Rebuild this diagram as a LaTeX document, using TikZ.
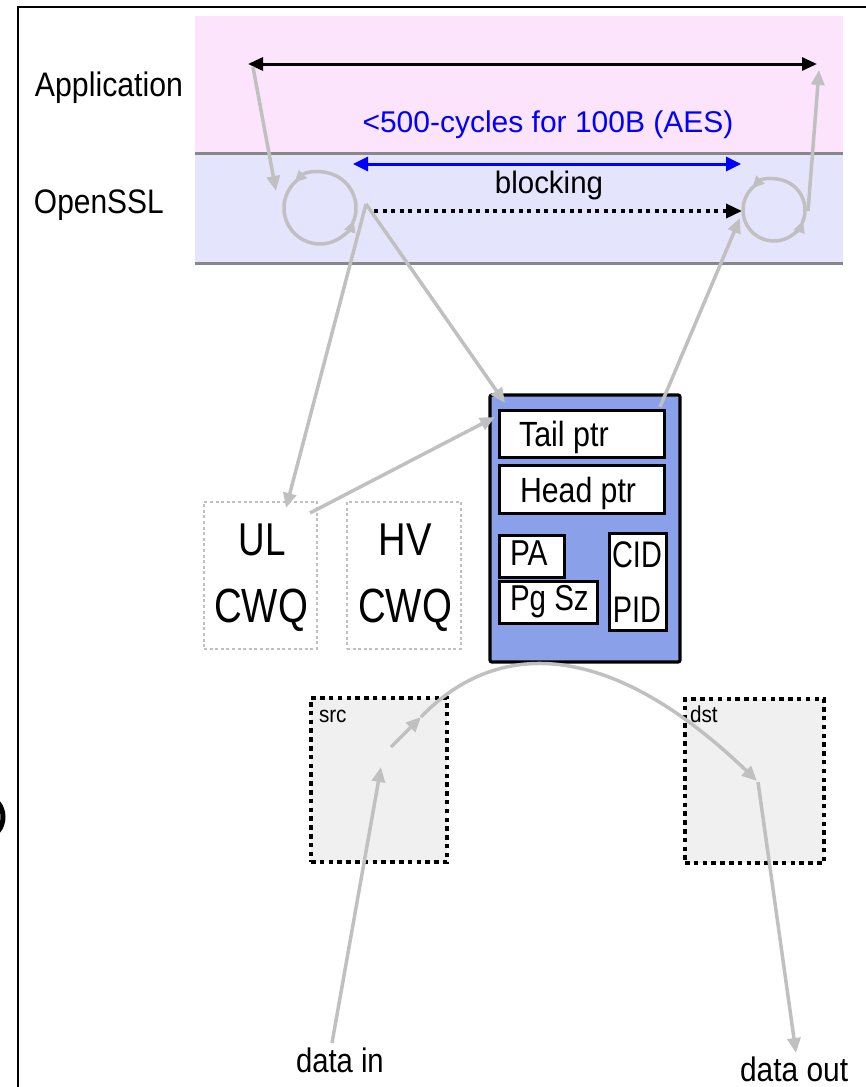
\documentclass[tikz,border=0pt]{standalone}
\usepackage{fontspec}
\setmainfont{Liberation Sans}
\usetikzlibrary{arrows.meta}

\definecolor{pinkband}{RGB}{252,228,252}
\definecolor{lavband}{RGB}{228,228,252}
\definecolor{bandline}{RGB}{136,136,136}
\definecolor{flow}{RGB}{192,192,192}
\definecolor{ringblue}{RGB}{138,160,232}
\definecolor{bufgray}{RGB}{240,240,240}
\newcommand\txtsz[1]{\fontsize{#1pt}{#1pt}\selectfont}

\begin{document}
\begin{tikzpicture}[x=1pt,y=-1pt,
  lbl/.style={inner sep=0pt, outer sep=0pt, anchor=base},
  lblw/.style={inner sep=0pt, outer sep=0pt, anchor=base west},
  flowarrow/.style={draw=flow, line width=3.5pt, line cap=butt,
    -{Triangle[length=15pt,width=13pt]}},
  loopline/.style={draw=flow, line width=3.5pt,
    -{Triangle[length=12pt,width=11pt]}},
  field/.style={draw=black, fill=white, line width=3pt, inner sep=0pt},
  queuebox/.style={draw=flow, line width=2.5pt, dash pattern=on 3pt off 2.6pt, inner sep=0pt},
  bufbox/.style={draw=black, fill=bufgray, line width=3.5pt, dash pattern=on 4.5pt off 4.3pt, inner sep=0pt},
]
\useasboundingbox (0,0) rectangle (865,1087);

% outer frame
\draw[line width=2.5pt] (18,1090) -- (18,7) -- (870,7);

% partially visible glyph on the left edge
\begin{scope}
  \clip (0,790) rectangle (7,845);
  \draw[line width=5pt] (-12,817) ellipse[x radius=15, y radius=19];
\end{scope}

% layer bands
\fill[pinkband] (195,16) rectangle (843,153);
\fill[lavband] (195,153) rectangle (843,263);
\draw[bandline, line width=3pt] (195,153) -- (843,153);
\draw[bandline, line width=3pt] (195,263) -- (843,263);

% layer labels
\node[lbl, font={\txtsz{34}}, xscale=0.89] (app) at (109,96) {Application};
\node[lblw, font={\txtsz{34}}, xscale=0.88] (ssl) at (34,213) {OpenSSL};

% timing annotations
\coordinate (appL) at (248,64);
\coordinate (appR) at (817,64);
\draw[line width=3pt, {Triangle[length=15pt,width=13pt]}-{Triangle[length=15pt,width=13pt]}] (appL) -- (appR);
\node[lbl, font={\txtsz{30}}, text=blue] (cyc) at (548,132) {<500-cycles for 100B (AES)};

\coordinate (blkL) at (353,164);
\coordinate (blkR) at (741,164);
\draw[draw=blue, line width=3pt, {Triangle[length=15pt,width=14pt]}-{Triangle[length=15pt,width=14pt]}] (blkL) -- (blkR);
\node[lbl, font={\txtsz{31}}, xscale=0.95] (blk) at (549,193) {blocking};

\coordinate (waitL) at (374,211);
\coordinate (waitR) at (742,211);
\draw[line width=3.5pt, dash pattern=on 4pt off 4.5pt, -{Triangle[length=16pt,width=14pt]}] (waitL) -- (waitR);

% polling loops: two overlapping arcs closing a circle, each ending in a tip
\coordinate (loopA) at (320,208);
\coordinate (loopB) at (774,210);
\draw[loopline] (loopA) ++(385:36) arc[start angle=385, end angle=225, radius=36];
\draw[loopline] (loopA) ++(240:36) arc[start angle=240, end angle=20, radius=36];
\draw[loopline] (loopB) ++(385:31) arc[start angle=385, end angle=225, radius=31];
\draw[loopline] (loopB) ++(240:31) arc[start angle=240, end angle=20, radius=31];

% queues
\node[queuebox, minimum width=113, minimum height=147] (ul) at (260.5,575.5) {};
\node[queuebox, minimum width=114, minimum height=147] (hv) at (404,575.5) {};
\node[lbl, font={\txtsz{46}}, xscale=0.8] (ulA) at (262,555) {UL};
\node[lbl, font={\txtsz{48}}, xscale=0.8] (ulB) at (261,622) {CWQ};
\node[lbl, font={\txtsz{46}}, xscale=0.83] (hvA) at (405,555) {HV};
\node[lbl, font={\txtsz{48}}, xscale=0.8] (hvB) at (405,622) {CWQ};

% ring descriptor
\node[draw=black, fill=ringblue, line width=3.2pt, rounded corners=2pt, inner sep=0pt,
  minimum width=190, minimum height=267] (ring) at (585,528.5) {};
\node[field, minimum width=165, minimum height=47] (tail) at (581.5,433.5) {};
\node[field, minimum width=165, minimum height=48] (head) at (581.5,489) {};
\node[field, minimum width=65, minimum height=42] (pa) at (531.5,556) {};
\node[field, minimum width=98, minimum height=42] (pgsz) at (548,602) {};
\node[field, minimum width=57, minimum height=97] (cid) at (637.5,581.5) {};
\node[lblw, font={\txtsz{35}}, xscale=0.87] (tailT) at (519,446) {Tail ptr};
\node[lblw, font={\txtsz{35}}, xscale=0.865] (headT) at (520,502) {Head ptr};
\node[lblw, font={\txtsz{36}}, xscale=0.83] (paT) at (510,565) {PA};
\node[lblw, font={\txtsz{36}}, xscale=0.82] (pgszT) at (510,610) {Pg Sz};
\node[lbl, font={\txtsz{37}}, xscale=0.78] (cidT) at (637,567) {CID};
\node[lbl, font={\txtsz{37}}, xscale=0.78] (pidT) at (637,622) {PID};

% buffers
\node[bufbox, minimum width=136, minimum height=164] (src) at (379,780) {};
\node[bufbox, minimum width=139, minimum height=164] (dst) at (754.5,781) {};
\node[lblw, font={\txtsz{23}}, xscale=0.9] (srcT) at (319,722) {src};
\node[lblw, font={\txtsz{23}}, xscale=0.9] (dstT) at (690,722) {dst};

\node[lblw, font={\txtsz{34}}, xscale=0.86] (din) at (296,1072) {data in};
\node[lblw, font={\txtsz{34}}, xscale=0.88] (dout) at (740,1081) {data out};

% control flow
\coordinate (appDown) at (253,67);
\coordinate (loopAin) at (276,191);
\coordinate (loopBout) at (808,211);
\coordinate (appUp) at (819,70);
\coordinate (sslOut) at (366,204);
\coordinate (ulTop) at (286,508);
\coordinate (ulOut) at (310,513);
\coordinate (tailIn) at (495,417);
\coordinate (ringIn) at (505,403);
\coordinate (ringOut) at (660,407);
\coordinate (loopBin) at (740,218);
\draw[flowarrow] (appDown) -- (loopAin);
\draw[flowarrow] (loopBout) -- (appUp);
\draw[flowarrow] (sslOut) -- (ulTop);
\draw[flowarrow] (sslOut) -- (ringIn);
\draw[flowarrow] (ulOut) -- (tailIn);
\draw[flowarrow] (ringOut) -- (loopBin);

% data flow
\coordinate (dinTop) at (332,1043);
\coordinate (srcIn) at (381,767);
\coordinate (srcA) at (391,747);
\coordinate (srcB) at (421,717);
\coordinate (dstIn) at (757,781);
\coordinate (dstOut) at (758,782);
\coordinate (doutTop) at (796,1053);
\draw[flowarrow] (dinTop) -- (srcIn);
\draw[flowarrow] (srcA) -- (srcB);
\draw[flowarrow] (srcB) .. controls (490,645) and (600,630) .. (dstIn);
\draw[flowarrow] (dstOut) -- (doutTop);
\end{tikzpicture}
\end{document}
